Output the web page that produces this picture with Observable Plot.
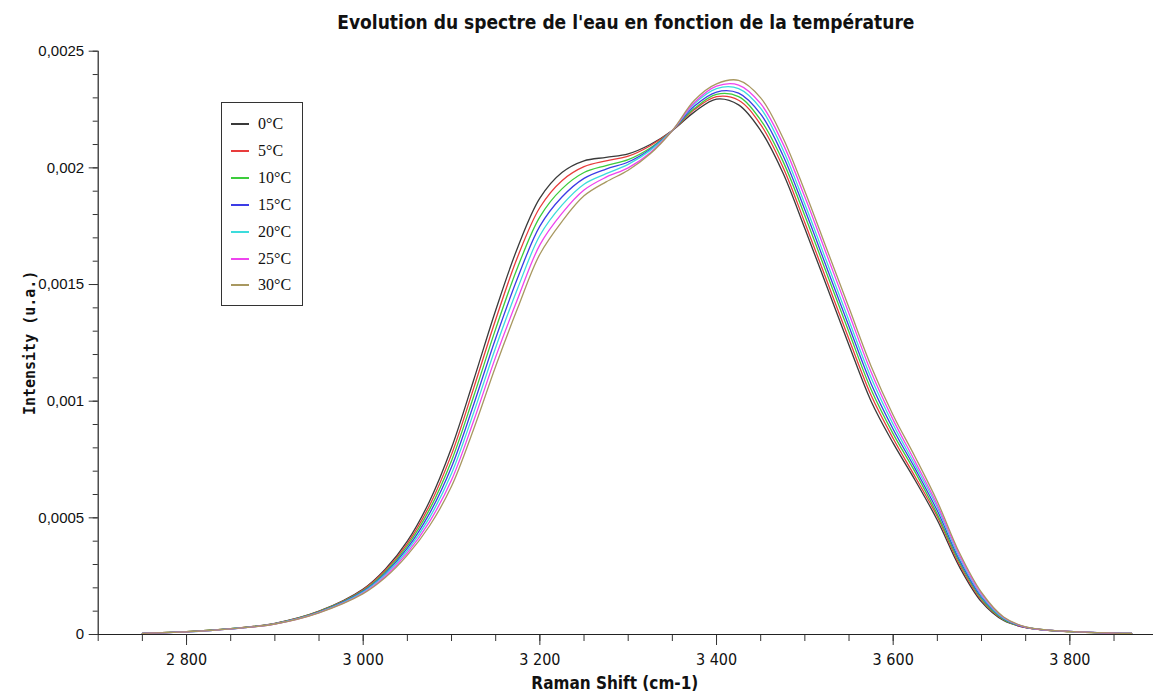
<!DOCTYPE html>
<html><head><meta charset="utf-8">
<script src="https://cdn.jsdelivr.net/npm/d3@7"></script>
<script src="https://cdn.jsdelivr.net/npm/@observablehq/plot@0.6"></script>
<style>
body{margin:0;background:#fff;}
#wrap{position:relative;width:1153px;height:695px;overflow:hidden;background:#fff;}
#legend{position:absolute;left:221px;top:102px;width:82px;height:204px;border:1px solid #333;background:#fff;box-sizing:border-box;}
.item{position:absolute;left:0;width:80px;height:20px;}
.swatch{position:absolute;left:9px;top:9px;width:18px;height:0;border-top:2px solid;}
.lab{position:absolute;left:36px;top:0;font:16px "Liberation Serif","DejaVu Serif",serif;color:#111;line-height:20px;}
svg text{fill:#111;}
</style>
</head><body>
<div id="wrap"><div id="legend"></div></div>
<script>
// Legend / series names
const temperatures = ["0°C","5°C","10°C","15°C","20°C","25°C","30°C"];
const colors = ["#3a3a3a","#e83c3c","#3ccc3c","#3c3ce6","#3cdcdc","#ee44ee","#a89860"];

// Raman shift (cm-1)
const wavenumbers = [2750,2800,2850,2900,2950,3000,3025,3050,3075,3100,3125,3150,3175,3200,3225,3250,3275,3300,3325,3350,3375,3400,3425,3450,3475,3500,3525,3550,3575,3600,3625,3650,3675,3700,3725,3750,3800,3850,3870];

// Intensities, in units of 1e-4 (u.a.)
const t0  = [0.05,0.12,0.25,0.48,1.00,1.95,2.80,4.00,5.70,8.00,10.90,13.90,16.60,18.70,19.80,20.30,20.45,20.60,21.00,21.60,22.40,22.95,22.70,21.60,19.80,17.40,14.90,12.40,10.00,8.20,6.60,4.90,2.90,1.40,0.60,0.30,0.12,0.06,0.05];
const t5  = [0.05,0.12,0.25,0.47,0.99,1.92,2.74,3.90,5.52,7.72,10.55,13.50,16.20,18.30,19.45,20.05,20.30,20.50,20.95,21.60,22.50,23.05,22.90,21.85,20.05,17.65,15.15,12.65,10.25,8.40,6.75,5.05,3.00,1.47,0.63,0.30,0.12,0.06,0.05];
const t10 = [0.05,0.12,0.25,0.47,0.98,1.88,2.68,3.80,5.35,7.45,10.20,13.10,15.75,17.90,19.10,19.80,20.10,20.35,20.85,21.60,22.55,23.15,23.05,22.05,20.30,17.95,15.45,12.95,10.50,8.60,6.95,5.15,3.10,1.53,0.65,0.31,0.12,0.06,0.05];
const t15 = [0.05,0.11,0.24,0.46,0.96,1.85,2.62,3.70,5.18,7.18,9.85,12.70,15.30,17.50,18.75,19.55,19.95,20.25,20.80,21.60,22.65,23.25,23.20,22.30,20.55,18.20,15.70,13.20,10.75,8.80,7.10,5.30,3.20,1.60,0.68,0.31,0.13,0.06,0.05];
const t20 = [0.05,0.11,0.24,0.46,0.95,1.82,2.56,3.60,5.00,6.90,9.50,12.30,14.85,17.10,18.40,19.30,19.75,20.15,20.75,21.60,22.75,23.40,23.40,22.55,20.80,18.45,15.95,13.45,11.00,9.00,7.25,5.45,3.30,1.67,0.70,0.32,0.13,0.06,0.05];
const t25 = [0.05,0.11,0.24,0.45,0.94,1.78,2.50,3.50,4.83,6.62,9.15,11.90,14.40,16.70,18.05,19.05,19.60,20.00,20.65,21.60,22.80,23.50,23.55,22.75,21.05,18.75,16.25,13.75,11.25,9.20,7.40,5.55,3.40,1.73,0.73,0.32,0.13,0.06,0.05];
const t30 = [0.05,0.11,0.24,0.45,0.93,1.75,2.44,3.40,4.65,6.35,8.80,11.50,14.00,16.30,17.70,18.80,19.40,19.90,20.60,21.60,22.90,23.60,23.75,23.00,21.30,19.00,16.50,14.00,11.50,9.40,7.60,5.70,3.50,1.80,0.75,0.33,0.13,0.06,0.05];

// Axis ticks
const xTicks = [2800,3000,3200,3400,3600,3800];
const xMinorTicks = [2700,2750,2800,2850,2900,2950,3000,3050,3100,3150,3200,3250,3300,3350,3400,3450,3500,3550,3600,3650,3700,3750,3800,3850];
const yTicks = [0,0.0005,0.001,0.0015,0.002,0.0025];
const yMinorTicks = [0,0.0001,0.0002,0.0003,0.0004,0.0005,0.0006,0.0007,0.0008,0.0009,0.001,0.0011,0.0012,0.0013,0.0014,0.0015,0.0016,0.0017,0.0018,0.0019,0.002,0.0021,0.0022,0.0023,0.0024,0.0025];

const title = "Evolution du spectre de l'eau en fonction de la température";
const xLabel = "Raman Shift (cm-1)";
const yLabel = "Intensity (u.a.)";

const series = [t0,t5,t10,t15,t20,t25,t30];
const rows = temperatures.flatMap((t,i) => wavenumbers.map((w,j) => ({w, v: series[i][j]*1e-4, t})));

const fmtY = d => d === 0 ? "0" : String(+d.toFixed(6)).replace(".", ",");
const fmtX = d => { const s = String(d); return s.slice(0, s.length-3) + " " + s.slice(-3); };

const narrow = "'Liberation Sans Narrow','DejaVu Sans Condensed',sans-serif";

const plot = Plot.plot({
  width: 1153, height: 695,
  marginLeft: 97.7, marginRight: 0, marginTop: 50.7, marginBottom: 61,
  x: {domain: [2700, 3894.7], label: null},
  y: {domain: [0, 0.0025], label: null},
  color: {domain: temperatures, range: colors},
  style: {background: "#fff", color: "#222"},
  marks: [
    Plot.axisX({ticks: xMinorTicks, tickSize: 7, tickFormat: () => "", stroke: "#333", label: null}),
    Plot.axisX({ticks: xTicks, tickSize: 11, tickPadding: 8, tickFormat: fmtX, fontSize: 16, fontFamily: narrow, stroke: "#333", label: null}),
    Plot.axisY({ticks: yMinorTicks, tickSize: 5, tickFormat: () => "", stroke: "#333", label: null}),
    Plot.axisY({ticks: yTicks, tickSize: 9, tickPadding: 5, tickFormat: fmtY, fontSize: 15, fontFamily: "'Liberation Sans',sans-serif", stroke: "#333", label: null}),
    Plot.ruleY([0], {stroke: "#222", strokeWidth: 1.2}),
    Plot.ruleX([2700], {stroke: "#222", strokeWidth: 1.2}),
    Plot.line(rows, {x: "w", y: "v", z: "t", stroke: "t", strokeWidth: 1.3, curve: "catmull-rom"}),
    Plot.text([title], {text: d => d, frameAnchor: "top", lineAnchor: "middle", dy: -28, fontSize: 19, fontWeight: "bold", fontFamily: "'DejaVu Sans Condensed',sans-serif", fill: "#000"}),
    Plot.text([xLabel], {text: d => d, frameAnchor: "bottom", lineAnchor: "middle", dy: 49, dx: -11, fontSize: 17, fontWeight: "bold", fontFamily: "'DejaVu Sans Condensed',sans-serif", fill: "#000"}),
    Plot.text([yLabel], {text: d => d, frameAnchor: "left", textAnchor: "middle", dx: -68, rotate: -90, fontSize: 15, fontWeight: "bold", fontFamily: "'DejaVu Sans Mono',monospace", fill: "#000"})
  ]
});
plot.style.position = "absolute";
plot.style.left = "0";
plot.style.top = "0";
const wrap = document.getElementById("wrap");
wrap.insertBefore(plot, wrap.firstChild);

const legend = document.getElementById("legend");
temperatures.forEach((t, i) => {
  const item = document.createElement("div");
  item.className = "item";
  item.style.top = (11 + i * 26.9) + "px";
  const sw = document.createElement("div");
  sw.className = "swatch";
  sw.style.borderTopColor = colors[i];
  const lab = document.createElement("div");
  lab.className = "lab";
  lab.textContent = t;
  item.appendChild(sw); item.appendChild(lab);
  legend.appendChild(item);
});
</script>
</body></html>
